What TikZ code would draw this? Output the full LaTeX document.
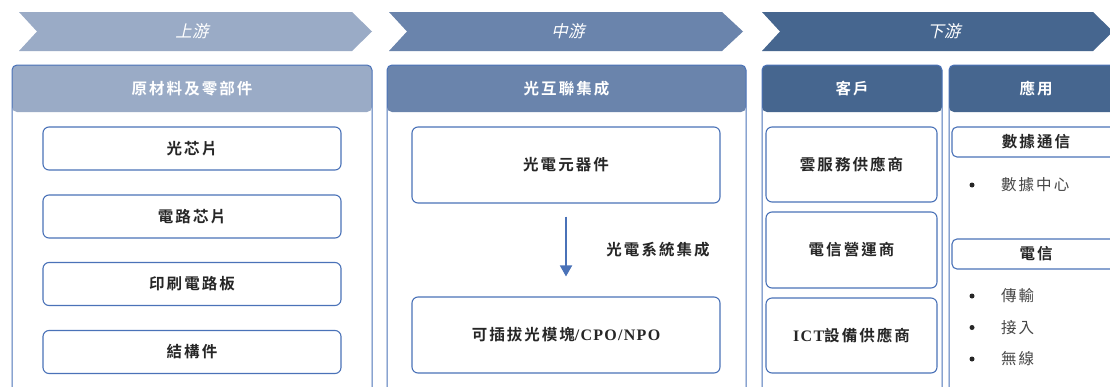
\documentclass[tikz,border=0pt]{standalone}
\usepackage{fontspec}
\newfontfamily\cjk[BoldFont={Noto Sans CJK TC Bold},LetterSpace=13]{Noto Sans CJK TC}
\newfontfamily\cjkit[FakeSlant=0.22,LetterSpace=3]{Noto Sans CJK TC}
\newfontfamily\lat[LetterSpace=8]{Liberation Serif}
\usetikzlibrary{arrows.meta}
\definecolor{cone}{HTML}{9AABC6}
\definecolor{ctwo}{HTML}{6A84AC}
\definecolor{cthree}{HTML}{46668F}
\definecolor{bline}{HTML}{4A72B8}
\definecolor{tdark}{HTML}{262626}
\begin{document}
\begin{tikzpicture}[x=1pt,y=-1pt,
  chev/.style={fill=#1,draw=none},
  chevtxt/.style={text=white,font=\cjkit\fontsize{16.5}{18}\selectfont},
  panel/.style={draw=bline,line width=1pt,rounded corners=5pt},
  headfill/.style={fill=#1,rounded corners=5pt},
  headtxt/.style={text=white,font=\cjk\bfseries\fontsize{15.5}{18}\selectfont},
  itembox/.style={draw=bline,line width=1.1pt,rounded corners=6pt,text=tdark,
     font=\cjk\bfseries\fontsize{15.5}{18}\selectfont,inner sep=0pt},
  subhead/.style={draw=bline,line width=1.1pt,rounded corners=5pt,text=tdark,
     font=\cjk\bfseries\fontsize{15.5}{18}\selectfont,inner sep=0pt,minimum width=168pt,minimum height=30pt},
  bul/.style={circle,fill=tdark,inner sep=0pt,minimum size=5pt},
  bultxt/.style={text=tdark!85,font=\cjk\fontsize{15.5}{18}\selectfont,anchor=west,inner sep=0pt},
  flow/.style={draw=bline,line width=1.8pt,-{Triangle[width=12pt,length=11pt]}}
]
\useasboundingbox (0,0) rectangle (1110,386);
\clip (0,0) rectangle (1110,386);
\fill[white] (0,0) rectangle (1110,386);

% chevrons
\fill[chev=cone] (19,12) -- (352,12) -- (372,31.5) -- (352,51) -- (19,51) -- (37,31.5) -- cycle;
\fill[chev=ctwo] (389,12) -- (722,12) -- (743,31.5) -- (722,51) -- (389,51) -- (407,31.5) -- cycle;
\fill[chev=cthree] (762,12) -- (1093,12) -- (1113,31.5) -- (1093,51) -- (762,51) -- (780,31.5) -- cycle;
\node[chevtxt] (up) at (192,31.5) {上游};
\node[chevtxt] (mid) at (568,31.5) {中游};
\node[chevtxt] (down) at (944,31.5) {下游};

% panels
\fill[headfill=cone] (12,65) rectangle (372,112);
\fill[headfill=ctwo] (387,65) rectangle (746,112);
\fill[headfill=cthree] (762,65) rectangle (942,112);
\fill[headfill=cthree] (949,65) rectangle (1123,112);
\draw[panel] (12,65) rectangle (372,430);
\draw[panel] (387,65) rectangle (746,430);
\draw[panel] (762,65) rectangle (942,430);
\draw[panel] (949,65) rectangle (1123,430);
\node[headtxt] (h1) at (192,88.5) {原材料及零部件};
\node[headtxt] (h2) at (566.5,88.5) {光互聯集成};
\node[headtxt] (h3) at (852,88.5) {客戶};
\node[headtxt] (h4) at (1036,88.5) {應用};

% column 1
\node[itembox,minimum width=298pt,minimum height=43pt] (a1) at (192,148.5) {光芯片};
\node[itembox,minimum width=298pt,minimum height=43pt] (a2) at (192,216.5) {電路芯片};
\node[itembox,minimum width=298pt,minimum height=43pt] (a3) at (192,284) {印刷電路板};
\node[itembox,minimum width=298pt,minimum height=43pt] (a4) at (192,352) {結構件};

% column 2
\node[itembox,minimum width=308pt,minimum height=76pt] (b1) at (566,165) {光電元器件};
\node[itembox,minimum width=308pt,minimum height=76pt] (b2) at (566,335) {可插拔光模塊{\lat\bfseries\fontsize{16}{18}\selectfont /CPO/NPO}};
\draw[flow,shorten <=13pt,shorten >=20pt] (b1) -- (b2);
\node[text=tdark,font=\cjk\bfseries\fontsize{15.5}{18}\selectfont] (lbl) at (658,250) {光電系統集成};

% column 3
\node[itembox,minimum width=171pt,minimum height=75pt] (c1) at (851.5,164.5) {雲服務供應商};
\node[itembox,minimum width=171pt,minimum height=76pt] (c2) at (851.5,250) {電信營運商};
\node[itembox,minimum width=171pt,minimum height=75pt] (c3) at (851.5,335.5) {{\lat\bfseries\fontsize{16}{18}\selectfont ICT}設備供應商};

% column 4
\node[subhead] (d1) at (1036,142) {數據通信};
\node[subhead] (d2) at (1036,254) {電信};
\node[bul] (e1b) at (972,185) {};
\node[bultxt] (e1) at (1001,185) {數據中心};
\node[bul] (e2b) at (972,296) {};
\node[bultxt] (e2) at (1001,296) {傳輸};
\node[bul] (e3b) at (972,327.5) {};
\node[bultxt] (e3) at (1001,327.5) {接入};
\node[bul] (e4b) at (972,359) {};
\node[bultxt] (e4) at (1001,359) {無線};
\end{tikzpicture}
\end{document}
